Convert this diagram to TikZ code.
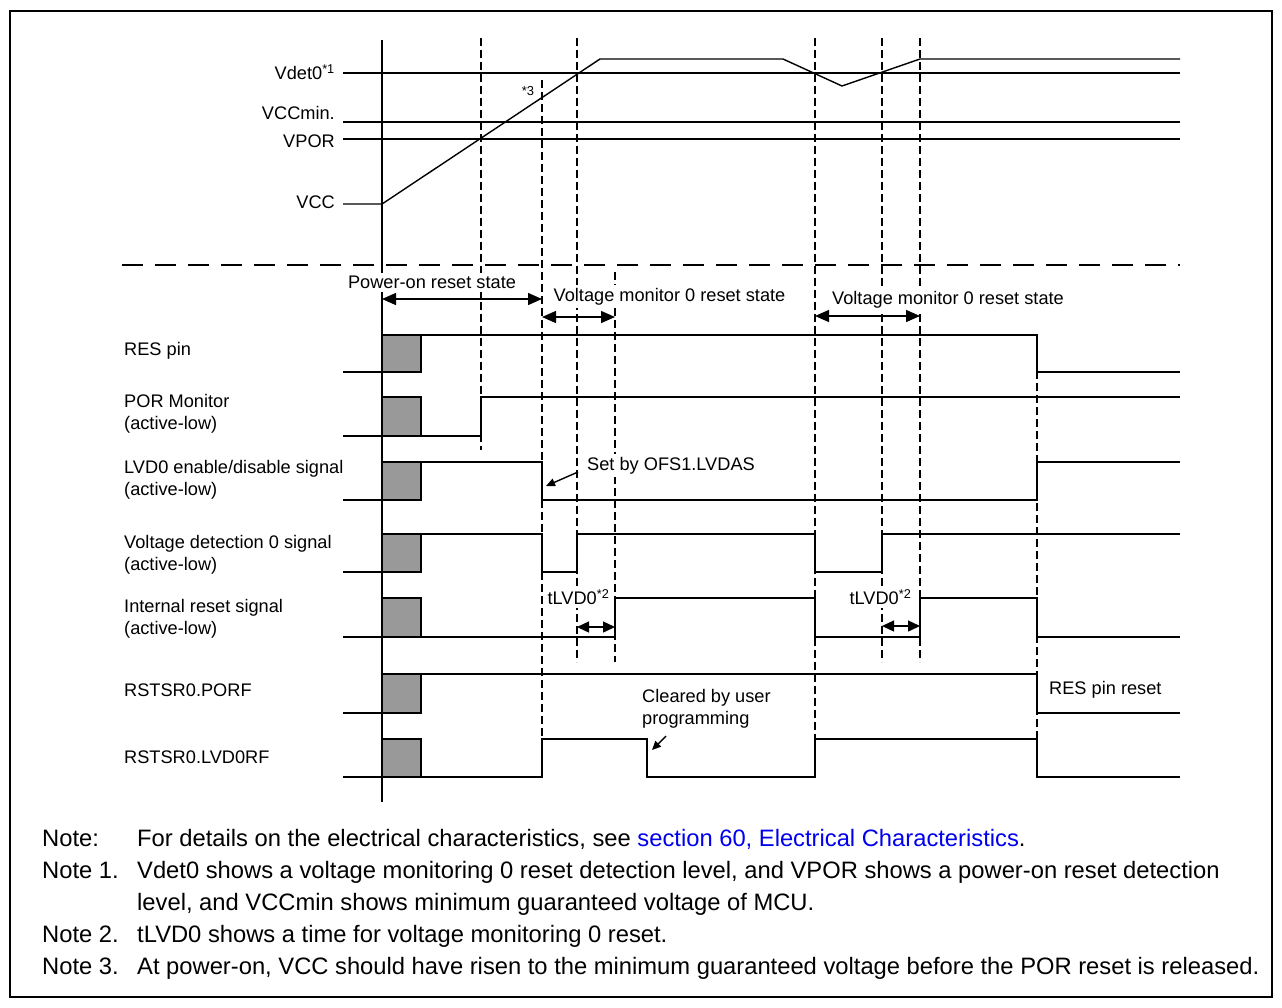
\documentclass[tikz,border=0pt]{standalone}
\usepackage{fontspec}
\setmainfont{Liberation Sans}
\usetikzlibrary{arrows.meta}
\definecolor{linkblue}{RGB}{0,0,238}
\definecolor{boxgray}{RGB}{153,153,153}
\begin{document}
\begin{tikzpicture}[x=1pt,y=-1pt,
 sig/.style={line width=1.4pt},
 vdash/.style={line width=2.6pt,dash pattern=on 8pt off 4pt},
 sepline/.style={line width=1.8pt,dash pattern=on 21pt off 12pt},
 gbox/.style={fill=boxgray,draw=black,line width=1.4pt},
 lbl/.style={font=\fontsize{18.2}{22}\selectfont,inner xsep=0pt,inner ysep=3pt,fill=white},
 notetxt/.style={font=\fontsize{23.75}{28}\selectfont,inner sep=0pt,anchor=base west},
 dim/.style={line width=1.4pt,{Triangle[length=14pt,width=12pt]}-{Triangle[length=14pt,width=12pt]}},
 smalldim/.style={line width=1.4pt,{Triangle[length=12pt,width=11pt]}-{Triangle[length=12pt,width=11pt]}},
 ptr/.style={line width=1.4pt,-{Triangle[length=9pt,width=8pt]}}
]
\useasboundingbox (0,0) rectangle (1282,1007);
\draw[line width=2.5pt] (10,11) rectangle (1272,997);

% ---------- vertical dashed timing lines ----------
\draw[vdash] (481,38) -- (481,450);
\draw[vdash] (542,80) -- (542,738);
\draw[vdash] (577,38) -- (577,662);
\draw[vdash] (615,272) -- (615,662);
\draw[vdash] (815,38) -- (815,740);
\draw[vdash] (882,38) -- (882,662);
\draw[vdash] (920,38) -- (920,662);
\draw[vdash] (1037,335) -- (1037,740);

% ---------- separator ----------
\draw[sepline] (122,265) -- (1180,265);

% ---------- voltage section ----------
\draw[sig] (382,40) -- (382,802);
\draw[sig] (343,73) -- (1180,73);
\draw[sig] (343,122) -- (1180,122);
\draw[sig] (343,139) -- (1180,139);
\draw[sig] (343,204) -- (382,204) -- (600,59) -- (783,59) -- (842,86) -- (920,59) -- (1180,59);

\node[lbl,anchor=base east] (lvdet) at (335,79.5) {Vdet0\textsuperscript{*1}};
\node[lbl,anchor=base east] (lvccmin) at (335,119.5) {VCCmin.};
\node[lbl,anchor=base east] (lvpor) at (335,147.5) {VPOR};
\node[lbl,anchor=base east] (lvcc) at (335,208.5) {VCC};
\node[inner sep=0pt,font=\fontsize{13}{15}\selectfont] (n3) at (528,91) {*3};

% ---------- state arrows ----------
\node[lbl,anchor=base] (tpor) at (432,288.5) {Power-on reset state};
\coordinate (pora) at (382,299); \coordinate (porb) at (542,299);
\draw[dim] (pora) -- (porb);
\node[lbl,anchor=base] (tvm1) at (669.5,301.5) {Voltage monitor 0 reset state};
\coordinate (vm1a) at (542,317); \coordinate (vm1b) at (615,317);
\draw[dim] (vm1a) -- (vm1b);
\node[lbl,anchor=base] (tvm2) at (948,304) {Voltage monitor 0 reset state};
\coordinate (vm2a) at (815,316); \coordinate (vm2b) at (920,316);
\draw[dim] (vm2a) -- (vm2b);

% ---------- signal labels ----------
\node[lbl,anchor=base west] (lres) at (124,355.5) {RES pin};
\node[lbl,anchor=west,align=left] (lpormon) at (124,414) {POR Monitor\\(active-low)};
\node[lbl,anchor=west,align=left] (llvden) at (124,480) {LVD0 enable/disable signal\\(active-low)};
\node[lbl,anchor=west,align=left] (lvd0) at (124,555) {Voltage detection 0 signal\\(active-low)};
\node[lbl,anchor=west,align=left] (lirs) at (124,619) {Internal reset signal\\(active-low)};
\node[lbl,anchor=base west] (lporf) at (124,696.5) {RSTSR0.PORF};
\node[lbl,anchor=base west] (llvdrf) at (124,763.5) {RSTSR0.LVD0RF};

% ---------- waveforms ----------
% RES pin
\draw[sig] (343,372) -- (382,372);
\draw[sig] (382,335) -- (1037,335) -- (1037,372) -- (1180,372);
\draw[gbox] (382,335) rectangle (421,372);
% POR monitor
\draw[sig] (343,436) -- (481,436) -- (481,397) -- (1180,397);
\draw[gbox] (382,397) rectangle (421,436);
% LVD0 enable
\draw[sig] (343,500) -- (382,500);
\draw[sig] (421,462) -- (542,462) -- (542,500) -- (1037,500) -- (1037,462) -- (1180,462);
\draw[gbox] (382,462) rectangle (421,500);
% Voltage detection 0
\draw[sig] (343,572) -- (382,572);
\draw[sig] (421,534) -- (542,534) -- (542,572) -- (577,572) -- (577,534) -- (815,534) -- (815,572) -- (882,572) -- (882,534) -- (1180,534);
\draw[gbox] (382,534) rectangle (421,572);
% Internal reset
\draw[sig] (343,637) -- (615,637) -- (615,598) -- (815,598) -- (815,637) -- (920,637) -- (920,598) -- (1037,598) -- (1037,637) -- (1180,637);
\draw[gbox] (382,598) rectangle (421,637);
% PORF
\draw[sig] (343,713) -- (382,713);
\draw[sig] (421,674) -- (1037,674) -- (1037,713) -- (1180,713);
\draw[gbox] (382,674) rectangle (421,713);
% LVD0RF
\draw[sig] (343,777) -- (542,777) -- (542,739) -- (647,739) -- (647,777) -- (815,777) -- (815,739) -- (1037,739) -- (1037,777) -- (1180,777);
\draw[gbox] (382,739) rectangle (421,777);

% ---------- tLVD0 ----------
\node[lbl,anchor=base] (tl1) at (578.5,604.5) {tLVD0\textsuperscript{*2}};
\coordinate (tl1a) at (577,627); \coordinate (tl1b) at (615,627);
\draw[smalldim] (tl1a) -- (tl1b);
\node[lbl,anchor=base] (tl2) at (880.5,604.5) {tLVD0\textsuperscript{*2}};
\coordinate (tl2a) at (882,626); \coordinate (tl2b) at (920,626);
\draw[smalldim] (tl2a) -- (tl2b);

% ---------- annotations ----------
\node[lbl,anchor=base west] (tset) at (587,470.5) {Set by OFS1.LVDAS};
\coordinate (seta) at (578,472); \coordinate (setb) at (546,486);
\draw[ptr] (seta) -- (setb);
\node[lbl,anchor=west,align=left] (tclr) at (642,709) {Cleared by user\\programming};
\coordinate (clra) at (666,736); \coordinate (clrb) at (652,750);
\draw[ptr] (clra) -- (clrb);
\node[lbl,anchor=base west] (tresr) at (1049,694) {RES pin reset};

% ---------- notes ----------
\node[notetxt] (nh0) at (42,846.5) {Note:};
\node[notetxt] (nt0) at (137,846.5) {For details on the electrical characteristics, see \textcolor{linkblue}{section 60, Electrical Characteristics}.};
\node[notetxt] (nh1) at (42,878.5) {Note 1.};
\node[notetxt] (nt1) at (137,878.5) {Vdet0 shows a voltage monitoring 0 reset detection level, and VPOR shows a power-on reset detection};
\node[notetxt] (nt1b) at (137,910.5) {level, and VCCmin shows minimum guaranteed voltage of MCU.};
\node[notetxt] (nh2) at (42,942.5) {Note 2.};
\node[notetxt] (nt2) at (137,942.5) {tLVD0 shows a time for voltage monitoring 0 reset.};
\node[notetxt] (nh3) at (42,974.5) {Note 3.};
\node[notetxt] (nt3) at (137,974.5) {At power-on, VCC should have risen to the minimum guaranteed voltage before the POR reset is released.};
\end{tikzpicture}
\end{document}
